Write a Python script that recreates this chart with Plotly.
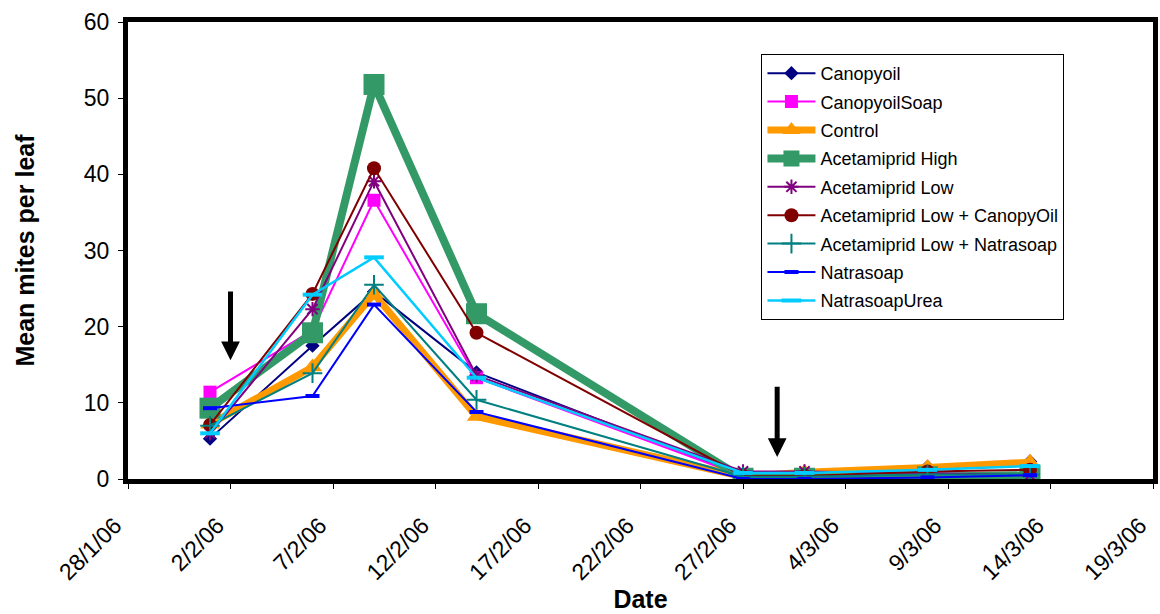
import plotly.graph_objects as go

# Sampling dates and mean mite counts per leaf for each treatment
dates = ["2006-02-01", "2006-02-06", "2006-02-09", "2006-02-14",
         "2006-02-27", "2006-03-02", "2006-03-08", "2006-03-13"]

canopyoil = [5.3, 17.5, 24.6, 14.0, 0.5, 0.7, 1.6, 2.3]
canopyoil_soap = [11.4, 19.5, 36.6, 13.3, 0.4, 0.4, 0.7, 0.6]
control = [7.2, 14.7, 24.3, 8.2, 0.3, 0.9, 1.5, 2.2]
acet_high = [9.3, 19.2, 51.8, 21.7, 0.1, 0.1, 0.3, 0.5]
acet_low = [6.0, 22.3, 39.1, 13.6, 1.0, 1.0, 0.8, 0.5]
acet_low_canopyoil = [7.1, 24.3, 40.8, 19.2, 0.4, 0.4, 1.0, 1.2]
acet_low_natrasoap = [7.0, 13.9, 25.5, 10.4, 0.3, 0.3, 0.6, 0.6]
natrasoap = [9.3, 10.9, 22.9, 8.8, 0.0, 0.0, 0.2, 0.5]
natrasoap_urea = [6.0, 24.2, 29.1, 13.3, 0.8, 0.8, 1.2, 1.7]

tick_dates = ["2006-01-28", "2006-02-02", "2006-02-07", "2006-02-12",
              "2006-02-17", "2006-02-22", "2006-02-27", "2006-03-04",
              "2006-03-09", "2006-03-14", "2006-03-19"]
tick_labels = ["28/1/06", "2/2/06", "7/2/06", "12/2/06", "17/2/06",
               "22/2/06", "27/2/06", "4/3/06", "9/3/06", "14/3/06", "19/3/06"]

series = [
    ("Canopyoil", canopyoil, "#000080", 2, "diamond", 11),
    ("CanopyoilSoap", canopyoil_soap, "#FF00FF", 2, "square", 13),
    ("Control", control, "#FF9900", 7, "triangle-up", 17),
    ("Acetamiprid High", acet_high, "#339966", 8, "square", 21),
    ("Acetamiprid Low", acet_low, "#800080", 2, "asterisk-open", 12),
    ("Acetamiprid Low + CanopyOil", acet_low_canopyoil, "#800000", 2, "circle", 14),
    ("Acetamiprid Low + Natrasoap", acet_low_natrasoap, "#008080", 2, "cross-thin-open", 14),
    ("Natrasoap", natrasoap, "#0000FF", 2, "line-ew-open", 10),
    ("NatrasoapUrea", natrasoap_urea, "#00CCFF", 2.5, "line-ew-open", 14),
]

fig = go.Figure()
for name, values, color, width, symbol, size in series:
    open_marker = symbol.endswith("open")
    fig.add_trace(go.Scatter(
        x=dates, y=values, name=name, mode="lines+markers",
        legendgroup=name,
        line=dict(color=color, width=width),
        marker=dict(symbol=symbol, size=size, color=color,
                    line=dict(color=color, width=4 if symbol == "line-ew-open" else (2 if open_marker else 0))),
    ))

# Spray application arrows
for x_at, y_top, y_tip in [("2006-02-02", 24.8, 15.6), ("2006-02-28 16:00", 12.3, 2.9)]:
    fig.add_annotation(
        x=x_at, y=y_tip, ax=x_at, ay=y_top, axref="x", ayref="y",
        xref="x", yref="y", text="", showarrow=True,
        arrowhead=2, arrowsize=0.75, arrowwidth=5, arrowcolor="black", standoff=0,
    )

font_family = "Liberation Sans, Arial, sans-serif"

fig.update_layout(
    width=1160, height=614,
    margin=dict(l=128, r=2, t=22, b=135),
    paper_bgcolor="white", plot_bgcolor="white",
    font=dict(family=font_family, color="black", size=20),
    showlegend=True,
    legend=dict(
        x=0.618, y=0.93, xanchor="left", yanchor="top",
        bgcolor="white", bordercolor="black", borderwidth=1,
        font=dict(size=18, family=font_family, color="black"),
        tracegroupgap=2, itemwidth=48,
    ),
    xaxis=dict(
        type="date",
        range=["2006-01-28", "2006-03-19"],
        tickvals=tick_dates, ticktext=tick_labels, tickangle=-45,
        ticks="outside", ticklen=5, tickcolor="black",
        ticklabelstandoff=14, ticklabelshift=-13, ticklabeloverflow="allow",
        showline=True, linecolor="black", linewidth=5, mirror=True,
        showgrid=False, zeroline=False,
        tickfont=dict(size=23),
        title=dict(text="<b>Date</b>", font=dict(size=25), standoff=6),
    ),
    yaxis=dict(
        range=[0, 60], dtick=10,
        ticks="outside", ticklen=5, tickcolor="black",
        ticklabelstandoff=4,
        showline=True, linecolor="black", linewidth=5, mirror=True,
        showgrid=False, zeroline=False,
        tickfont=dict(size=23),
        title=dict(text="<b>Mean mites per leaf</b>", font=dict(size=25), standoff=44),
    ),
)

fig.write_html("out.html")
